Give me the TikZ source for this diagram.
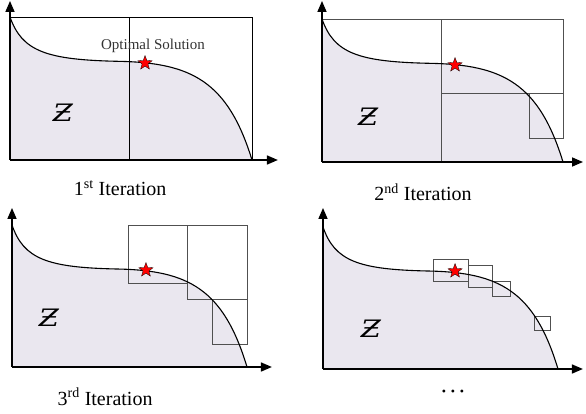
\documentclass[tikz,border=0pt]{standalone}
\usepackage{fontspec}
\setmainfont{Liberation Serif}
\newfontfamily\zfont{DejaVu Serif}
\usepackage{amsmath}
\usetikzlibrary{arrows.meta, shapes.geometric}

\definecolor{regionfill}{RGB}{234,231,239}
\definecolor{cellgray}{RGB}{80,80,80}

\tikzset{
  axis/.style={line width=1.6pt, -{Triangle[length=11pt,width=9pt]}},
  frontier/.style={line width=1.1pt},
  cell/.style={draw=cellgray, line width=0.9pt},
  optstar/.style={star, star points=5, star point ratio=2.4, fill=red, draw=black,
    line width=0.3pt, minimum size=15pt, inner sep=0pt},
  caption/.style={font=\fontsize{20}{24}\selectfont},
  setlabel/.style={font=\zfont\itshape\fontsize{24}{28}\selectfont, xscale=1.2},
}

% region below the frontier, in unit coordinates of one panel
\newcommand{\drawregion}{%
  \fill[regionfill] (0,0) -- (0,1) .. controls (0.05,0.76) and (0.15,0.70) .. (0.45,0.69)
    .. controls (0.75,0.68) and (0.9,0.55) .. (1,0) -- cycle;}
\newcommand{\drawfrontier}{%
  \draw[frontier] (0,1) .. controls (0.05,0.76) and (0.15,0.70) .. (0.45,0.69)
    .. controls (0.75,0.68) and (0.9,0.55) .. (1,0);}

\begin{document}
\begin{tikzpicture}[x=1pt, y=-1pt]
\useasboundingbox (0,0) rectangle (586,414);

% 1st iteration
\begin{scope}[shift={(10,160)}, x=242pt, y=143pt]
  \drawregion
  \draw[cell, draw=black] (0,0) rectangle (1,1);
  \draw[cell, draw=black] (0.492,0) -- (0.492,1);
  \drawfrontier
  \coordinate (o1) at (0,0);
  \coordinate (ytip1) at (0,1.112);
  \coordinate (xtip1) at (1.107,0);
  \draw[axis] (o1) -- (ytip1);
  \draw[axis] (o1) -- (xtip1);
  \node[font=\fontsize{15}{18}\selectfont, text=black!80] (opt) at (0.591,0.795) {Optimal Solution};
  \node[optstar] (star1) at (0.558,0.678) {};
  \node[setlabel] (z1) at (0.219,0.329) {Ƶ};
  \node[caption] (cap1) at (0.455,-0.196) {1\textsuperscript{st} Iteration};
\end{scope}

% 2nd iteration
\begin{scope}[shift={(322,162)}, x=241pt, y=143pt]
  \drawregion
  \draw[cell] (0,1) -- (0.494,1);
  \draw[cell] (0.494,0) -- (0.494,0.476);
  \draw[cell] (0.494,0.476) rectangle (1,1);
  \draw[cell] (0.859,0.168) rectangle (1,0.476);
  \drawfrontier
  \coordinate (o2) at (0,0);
  \coordinate (ytip2) at (0,1.126);
  \coordinate (xtip2) at (1.083,0);
  \draw[axis] (o2) -- (ytip2);
  \draw[axis] (o2) -- (xtip2);
  \node[optstar] (star2) at (0.552,0.678) {};
  \node[setlabel] (z2) at (0.191,0.315) {Ƶ};
  \node[caption] (cap2) at (0.419,-0.21) {2\textsuperscript{nd} Iteration};
\end{scope}

% 3rd iteration
\begin{scope}[shift={(12,367)}, x=235pt, y=142pt]
  \drawregion
  \draw[cell] (0.494,0.585) rectangle (0.745,1);
  \draw[cell] (0.745,0.479) rectangle (1,1);
  \draw[cell] (0.855,0.162) rectangle (1,0.479);
  \drawfrontier
  \coordinate (o3) at (0,0);
  \coordinate (ytip3) at (0,1.12);
  \coordinate (xtip3) at (1.106,0);
  \draw[axis] (o3) -- (ytip3);
  \draw[axis] (o3) -- (xtip3);
  \node[optstar] (star3) at (0.57,0.683) {};
  \node[setlabel] (z3) at (0.157,0.345) {Ƶ};
  \node[caption] (cap3) at (0.396,-0.211) {3\textsuperscript{rd} Iteration};
\end{scope}

% later iterations
\begin{scope}[shift={(323,369)}, x=235pt, y=142pt]
  \drawregion
  \foreach \xa/\ya/\xb/\yb in {0.472/0.620/0.621/0.768, 0.621/0.577/0.723/0.732,
      0.723/0.514/0.796/0.620, 0.898/0.268/0.966/0.373}
    \draw[cell] (\xa,\ya) rectangle (\xb,\yb);
  \drawfrontier
  \coordinate (o4) at (0,0);
  \coordinate (ytip4) at (0,1.134);
  \coordinate (xtip4) at (1.106,0);
  \draw[axis] (o4) -- (ytip4);
  \draw[axis] (o4) -- (xtip4);
  \node[optstar] (star4) at (0.562,0.69) {};
  \node[setlabel] (z4) at (0.204,0.282) {Ƶ};
  \node[font=\fontsize{12}{14}\selectfont] (cap4) at (0.553,-0.169)
    {\textbullet\hspace{4.8pt}\textbullet\hspace{4.8pt}\textbullet};
\end{scope}
\end{tikzpicture}
\end{document}
